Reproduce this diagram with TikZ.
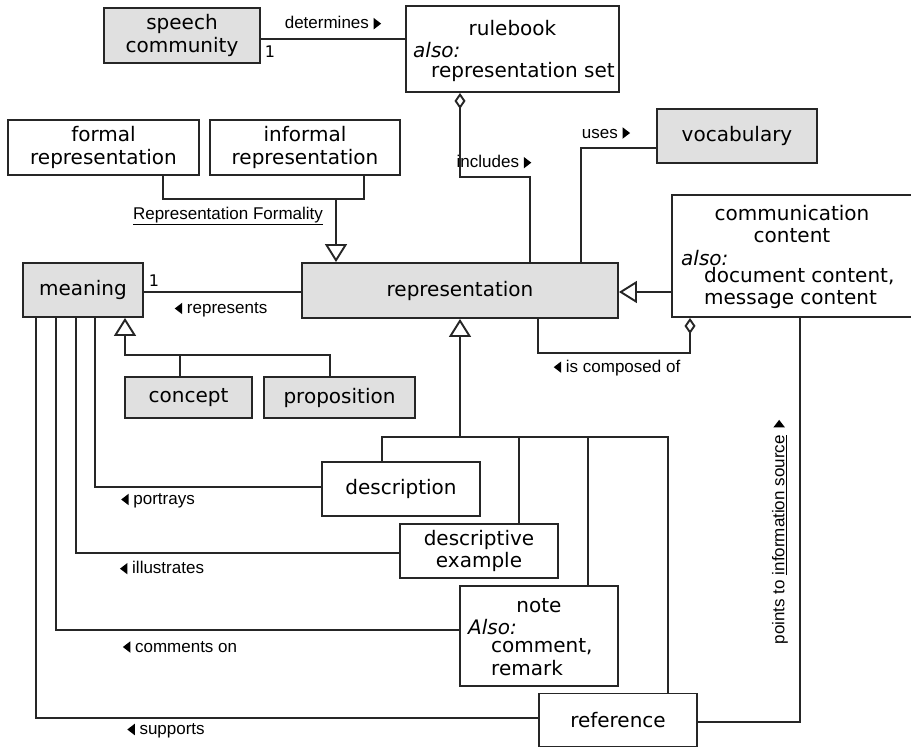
\documentclass[tikz,border=0pt]{standalone}
\usepackage{fontspec}
\setmainfont{DejaVu Sans}
\newfontfamily\labfont{Liberation Sans}
\usetikzlibrary{arrows.meta}
\newcommand{\rtri}{\tikz[baseline=0pt]\fill (0pt,-0.5pt) -- (0pt,11pt) -- (7.5pt,5.25pt) -- cycle;}
\newcommand{\ltri}{\tikz[baseline=0pt]\fill (7.5pt,-0.5pt) -- (7.5pt,11pt) -- (0pt,5.25pt) -- cycle;}
\tikzset{
  box/.style={draw=black!85, line width=1.9pt, inner sep=0pt, align=center,
    font=\fontsize{20}{22.5}\selectfont},
  gbox/.style={box, fill=black!12},
  txt/.style={inner sep=0pt, font=\fontsize{20}{22.5}\selectfont},
  lab/.style={inner sep=0pt, font=\labfont\fontsize{17}{19}\selectfont},
  conn/.style={draw=black!85, line width=1.9pt},
  gen/.style={conn, -{Triangle[open, length=18pt, width=22pt]}},
  agg/.style={conn, -{Diamond[open, length=16pt, width=11pt]}},
}
\begin{document}
\begin{tikzpicture}[x=1pt,y=-1pt]
\clip (0,0) rectangle (911,748);
\fill[white] (0,0) rectangle (911,748);
% boxes
\node[gbox, minimum width=156pt, minimum height=55pt] (sc) at (182,35.5) {speech\\community};
\node[box, minimum width=213pt, minimum height=86pt] (rb) at (512.5,49) {};
\node[txt] (rbt) at (512.5,28) {rulebook};
\node[txt, anchor=west] (rba) at (413,50) {\itshape also:};
\node[txt, anchor=west] (rbs) at (431,72) {representation set};
\node[box, minimum width=191pt, minimum height=55pt] (fr) at (103.5,147.5) {formal\\representation};
\node[box, minimum width=190pt, minimum height=55pt] (ir) at (305,147.5) {informal\\representation};
\node[gbox, minimum width=160pt, minimum height=54pt] (voc) at (737,136) {vocabulary};
\node[box, minimum width=241pt, minimum height=122pt] (cc) at (792.5,256) {};
\node[txt, align=center] (cct) at (792,224) {communication\\content};
\node[txt, anchor=west] (cca) at (681,258) {\itshape also:};
\node[txt, anchor=west, align=left] (ccs) at (704,288) {document content,\\message content};
\node[gbox, minimum width=120pt, minimum height=54pt] (mean) at (83,290) {meaning};
\node[gbox, minimum width=316pt, minimum height=55pt] (rep) at (460,290.5) {representation};
\node[gbox, minimum width=127pt, minimum height=41pt] (con) at (188.5,397.5) {concept};
\node[gbox, minimum width=151pt, minimum height=41pt] (prop) at (339.5,397.5) {proposition};
\node[box, minimum width=158pt, minimum height=54pt] (desc) at (401,489) {description};
\node[box, minimum width=158pt, minimum height=54pt] (dex) at (479,551) {descriptive\\example};
\node[box, minimum width=158pt, minimum height=100pt] (note) at (539,636) {};
\node[txt] (nott) at (539,606) {note};
\node[txt, anchor=west] (nota) at (468,627) {\itshape Also:};
\node[txt, anchor=west, align=left] (nots) at (491,657) {comment,\\remark};
\node[box, minimum width=158pt, minimum height=53pt] (ref) at (618,720) {reference};
% connectors
\draw[conn] (sc.east |- 0,39) -- (rb.west |- 0,39);
\draw[agg] (rep.north -| 530,0) |- (460,177) -- (rb.south -| 460,0);
\draw[conn] (voc.west |- 0,148) -| (rep.north -| 581,0);
\draw[conn] (fr.south -| 163,0) -- (163,199) -- (364,199) -- (ir.south -| 364,0);
\draw[gen] (336,199) -- (rep.north -| 336,0);
\draw[conn] (mean.east |- 0,292) -- (rep.west |- 0,292);
\draw[conn] (con.north -| 180,0) -- (180,355);
\draw[gen] (prop.north -| 330,0) -- (330,355) -- (125,355) -- (mean.south -| 125,0);
\draw[conn] (desc.north -| 382,0) -- (382,437) -- (668,437) -- (ref.north -| 668,0);
\draw[conn] (dex.north -| 519,0) -- (519,437);
\draw[conn] (note.north -| 588,0) -- (588,437);
\draw[gen] (460,437) -- (rep.south -| 460,0);
\draw[gen] (cc.west |- 0,292) -- (rep.east |- 0,292);
\draw[agg] (rep.south -| 538,0) |- (690,353) -- (cc.south -| 690,0);
\draw[conn] (cc.south -| 800,0) |- (ref.east |- 0,722);
\draw[conn] (mean.south -| 95,0) |- (desc.west |- 0,487);
\draw[conn] (mean.south -| 76,0) |- (dex.west |- 0,553);
\draw[conn] (mean.south -| 56,0) |- (note.west |- 0,630);
\draw[conn] (mean.south -| 36,0) |- (ref.west |- 0,718);
% labels
\node[lab] (l1) at (333,23) {determines \rtri};
\node[lab, font=\fontsize{16}{18}\selectfont] (m1) at (270,52) {1};
\node[lab] (l2) at (494,162) {includes \rtri};
\node[lab] (l3) at (606,133) {uses \rtri};
\node[lab] (l4) at (228,216) {\underline{Representation Formality}};
\node[lab, font=\fontsize{16}{18}\selectfont] (m2) at (154,281) {1};
\node[lab] (l5) at (221,310) {\ltri\ represents};
\node[lab] (l6) at (617,368) {\ltri\ is composed of};
\node[lab] (l7) at (158,501) {\ltri\ portrays};
\node[lab] (l8) at (162,568) {\ltri\ illustrates};
\node[lab] (l9) at (180,647) {\ltri\ comments on};
\node[lab] (l10) at (166,731) {\ltri\ supports};
\node[lab, rotate=90] (l11) at (780,532) {points to \underline{information source}\hspace{8pt}\rtri};
\end{tikzpicture}
\end{document}
